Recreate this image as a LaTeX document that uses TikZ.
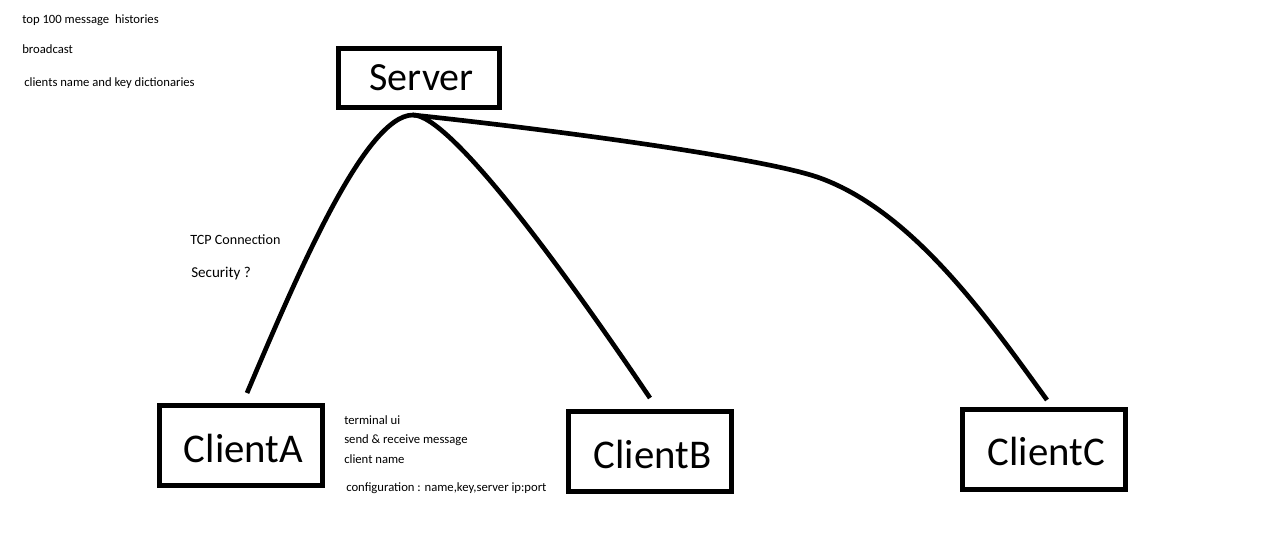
\documentclass[tikz,border=0pt]{standalone}
\usepackage{fontspec}
\setmainfont{Carlito}
\begin{document}
\begin{tikzpicture}[x=0.75pt, y=0.75pt,
    box/.style={draw, line width=3.75pt, inner sep=0pt, minimum width=122.25pt, minimum height=60pt, text height=25pt, font=\fontsize{30.6}{36}\selectfont},
    note/.style={anchor=base west, inner sep=0pt, font=\fontsize{9.5}{11}\selectfont},
    wire/.style={line width=3.5pt}]
    \useasboundingbox (0,0) rectangle (1273,533);

    % 1. 方框
    \node[box, minimum width=120.75pt, minimum height=44.6pt, text height=19pt, font=\fontsize{30}{36}\selectfont] (server) at (419,454.75) {\hspace{4pt}Server};
    \node[box] (clientA) at (240.8,87.5) {\hspace{4pt}ClientA};
    \node[box] (clientB) at (650,81.5) {\hspace{4pt}ClientB};
    \node[box] (clientC) at (1043.7,83.8) {\hspace{4pt}ClientC};

    % 2. 连线的端点
    \coordinate (top) at (413,418);
    \coordinate (afoot) at (247,140);
    \coordinate (bfoot) at (650,135);
    \coordinate (cturn) at (820,355);
    \coordinate (cfoot) at (1047,133);

    % 3. 连线
    \draw[wire] (afoot) to[out=67, in=180, out looseness=1, in looseness=0.38] (top);
    \draw[wire] (top) to[out=0, in=124, out looseness=0.26, in looseness=1.06] (bfoot);
    \draw[wire] (top) to[out=-6, in=160, out looseness=0.81, in looseness=0.37] (cturn)
          to[out=-20, in=126, looseness=0.8] (cfoot);

    % 4. 文字
    \node[note] (hist) at (22,509.7) {top 100 message\ \ histories};
    \node[note] (cast) at (22,479.7) {broadcast};
    \node[note] (dict) at (24,446.3) {clients name and key dictionaries};
    \node[note, font=\fontsize{10.6}{12}\selectfont] (tcp) at (190,289) {TCP Connection};
    \node[note, font=\fontsize{11.3}{13}\selectfont] (sec) at (191,255.7) {Security ?};
    \node[note] (ui) at (344,109) {terminal ui};
    \node[note] (msg) at (344,89.7) {send \& receive message};
    \node[note] (cname) at (344,69.7) {client name};
    \node[note] (conf) at (346,42) {configuration : name,key,server ip:port};

  \end{tikzpicture}
\end{document}
